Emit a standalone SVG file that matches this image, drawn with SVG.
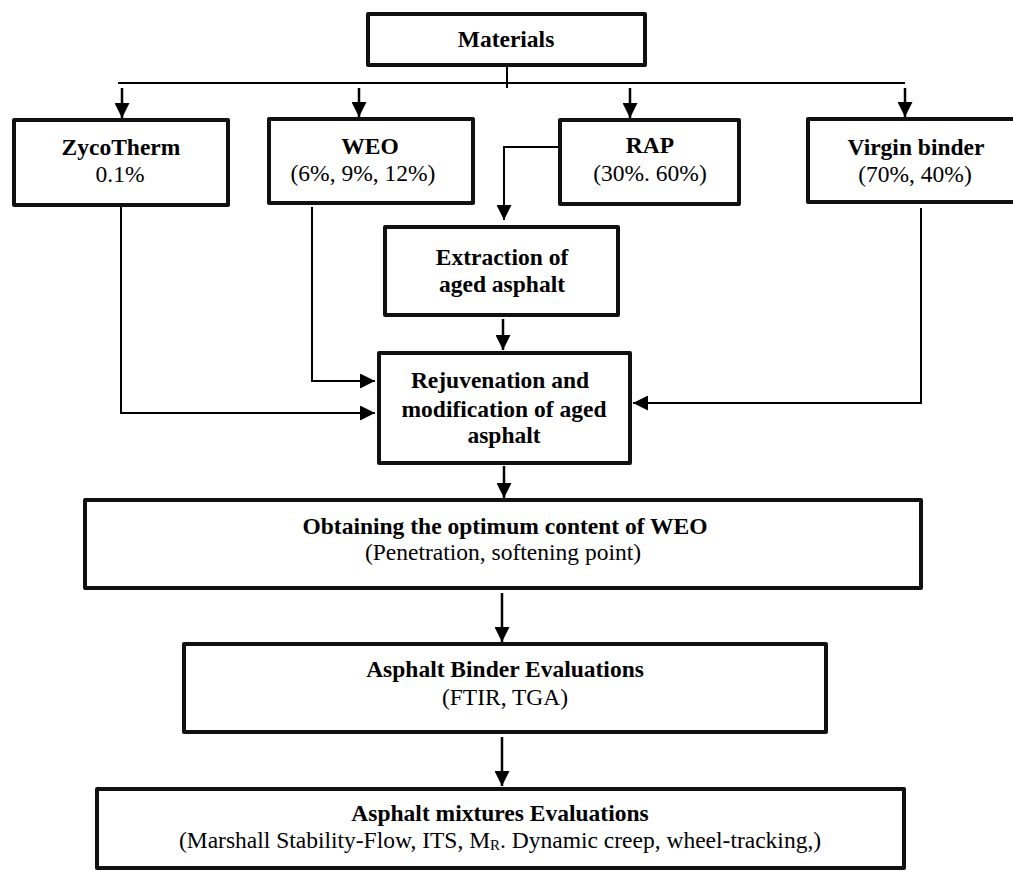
<svg xmlns="http://www.w3.org/2000/svg" width="1013" height="873" viewBox="0 0 1013 873">
<defs>
<marker id="ah" viewBox="0 0 15 15" refX="15" refY="7.5" markerWidth="15" markerHeight="15" markerUnits="userSpaceOnUse" orient="auto">
<path d="M0,0 L15,7.5 L0,15 z" fill="#000"/>
</marker>
<style>
.box{fill:#fff;stroke:#111;stroke-width:4;stroke-linejoin:round}
.c{fill:none;stroke:#000;stroke-width:2}
.a{marker-end:url(#ah)}
.v{stroke-width:2.5}
text{font-family:"Liberation Serif","Times New Roman",serif;font-size:23.5px;fill:#000;text-anchor:middle}
.b{font-weight:bold}
</style>
</defs>
<rect width="1013" height="873" fill="#fff"/>
<g id="connectors">
<polyline class="c" points="507,67 507,88"/>
<polyline class="c" points="118,83 905,83"/>
<line class="c a v" x1="122" y1="88" x2="122" y2="118"/>
<line class="c a v" x1="359" y1="88" x2="359" y2="117"/>
<line class="c a v" x1="630" y1="88" x2="630" y2="118"/>
<line class="c a v" x1="905" y1="88" x2="905" y2="117"/>
<polyline class="c a" points="558,147 504,147 504,220"/>
<polyline class="c a" points="121,207 121,413 375,413"/>
<polyline class="c a" points="312,207 312,381 375,381"/>
<polyline class="c a" points="921,208 921,403 633,403"/>
<line class="c a v" x1="503" y1="319" x2="503" y2="350"/>
<line class="c a v" x1="504" y1="466" x2="504" y2="498"/>
<line class="c a v" x1="502" y1="593" x2="502" y2="642"/>
<line class="c a v" x1="502" y1="737" x2="502" y2="786"/>
</g>
<g id="materials">
<rect class="box" x="368" y="14" width="277" height="51"/>
<text class="b" x="506" y="47">Materials</text>
</g>
<g id="zycotherm">
<rect class="box" x="14" y="120" width="214" height="85"/>
<text class="b" x="121" y="155">ZycoTherm</text>
<text x="120" y="182">0.1%</text>
</g>
<g id="weo">
<rect class="box" x="269" y="119" width="204" height="84"/>
<text class="b" x="370" y="154">WEO</text>
<text x="363" y="181">(6%, 9%, 12%)</text>
</g>
<g id="rap">
<rect class="box" x="560" y="120" width="179" height="84"/>
<text class="b" x="650" y="153">RAP</text>
<text x="650" y="181">(30%. 60%)</text>
</g>
<g id="virgin">
<rect class="box" x="808" y="119" width="220" height="83"/>
<text class="b" x="916" y="155">Virgin binder</text>
<text x="915" y="182">(70%, 40%)</text>
</g>
<g id="extraction">
<rect class="box" x="385" y="227" width="233" height="88"/>
<text class="b" x="502" y="265">Extraction of</text>
<text class="b" x="502" y="292">aged asphalt</text>
</g>
<g id="rejuvenation">
<rect class="box" x="379" y="353" width="251" height="110"/>
<text class="b" x="500" y="388">Rejuvenation and</text>
<text class="b" x="504" y="417">modification of aged</text>
<text class="b" x="504" y="443">asphalt</text>
</g>
<g id="obtaining">
<rect class="box" x="85" y="500" width="836" height="88"/>
<text class="b" x="505" y="534">Obtaining the optimum content of WEO</text>
<text x="503" y="560">(Penetration, softening point)</text>
</g>
<g id="binder">
<rect class="box" x="184" y="644" width="642" height="88"/>
<text class="b" x="505" y="677">Asphalt Binder Evaluations</text>
<text x="505" y="705">(FTIR, TGA)</text>
</g>
<g id="mixtures">
<rect class="box" x="97" y="789" width="807" height="79"/>
<text class="b" x="500" y="821">Asphalt mixtures Evaluations</text>
<text x="500" y="848">(Marshall Stability-Flow, ITS, M<tspan font-size="15" dy="2">R</tspan><tspan dy="-2">. Dynamic creep, wheel-tracking,)</tspan></text>
</g>
</svg>
